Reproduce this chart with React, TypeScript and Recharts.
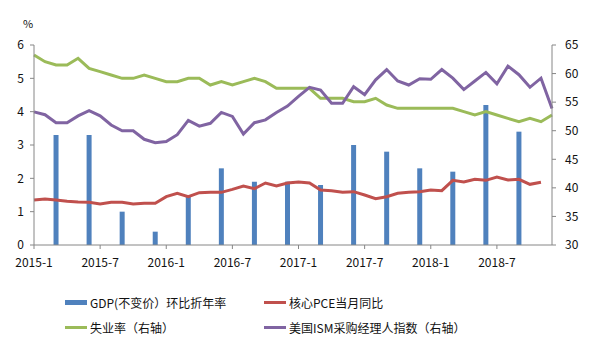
import React from "react";
import { ComposedChart, Bar, Line, XAxis, YAxis } from "recharts";

const FONT = "'Noto Sans CJK SC', 'Noto Sans', sans-serif";
const AXIS_COLOR = "#868686";
const TEXT_COLOR = "#111";

const months = [
    "2015-1", "2015-2", "2015-3", "2015-4", "2015-5", "2015-6", "2015-7", "2015-8", "2015-9", "2015-10", "2015-11", "2015-12",
    "2016-1", "2016-2", "2016-3", "2016-4", "2016-5", "2016-6", "2016-7", "2016-8", "2016-9", "2016-10", "2016-11", "2016-12",
    "2017-1", "2017-2", "2017-3", "2017-4", "2017-5", "2017-6", "2017-7", "2017-8", "2017-9", "2017-10", "2017-11", "2017-12",
    "2018-1", "2018-2", "2018-3", "2018-4", "2018-5", "2018-6", "2018-7", "2018-8", "2018-9", "2018-10", "2018-11", "2018-12",
];

const tickLabels = ["2015-1", "2015-7", "2016-1", "2016-7", "2017-1", "2017-7", "2018-1", "2018-7"];

// GDP only on quarter-end months
const gdp = [
    null, null, 3.3, null, null, 3.3, null, null, 1.0, null, null, 0.4,
    null, null, 1.5, null, null, 2.3, null, null, 1.9, null, null, 1.9,
    null, null, 1.8, null, null, 3.0, null, null, 2.8, null, null, 2.3,
    null, null, 2.2, null, null, 4.2, null, null, 3.4, null, null, null,
];

const corePce = [
    1.35, 1.38, 1.35, 1.31, 1.29, 1.28, 1.23, 1.28, 1.28, 1.23, 1.25, 1.25,
    1.45, 1.55, 1.45, 1.57, 1.58, 1.58, 1.67, 1.77, 1.69, 1.86, 1.77, 1.86,
    1.89, 1.86, 1.65, 1.63, 1.58, 1.6, 1.5, 1.39, 1.45, 1.55, 1.58, 1.6,
    1.65, 1.63, 1.94, 1.89, 1.97, 1.94, 2.04, 1.95, 1.97, 1.82, 1.88, null,
];

const unemployment = [
    5.7, 5.5, 5.4, 5.4, 5.6, 5.3, 5.2, 5.1, 5.0, 5.0, 5.1, 5.0,
    4.9, 4.9, 5.0, 5.0, 4.8, 4.9, 4.8, 4.9, 5.0, 4.9, 4.7, 4.7,
    4.7, 4.7, 4.4, 4.4, 4.4, 4.3, 4.3, 4.4, 4.2, 4.1, 4.1, 4.1,
    4.1, 4.1, 4.1, 4.0, 3.9, 4.0, 3.9, 3.8, 3.7, 3.8, 3.7, 3.9,
];

const ism = [
    53.3, 52.8, 51.4, 51.4, 52.6, 53.5, 52.6, 51.0, 50.0, 50.0, 48.5, 47.9,
    48.1, 49.3, 51.8, 50.8, 51.3, 53.2, 52.5, 49.4, 51.4, 51.9, 53.2, 54.3,
    56.0, 57.6, 57.1, 54.8, 54.8, 57.7, 56.3, 58.9, 60.7, 58.7, 58.0, 59.1,
    59.0, 60.7, 59.2, 57.2, 58.7, 60.2, 58.2, 61.3, 59.8, 57.6, 59.2, 53.9,
];

const leftTicks = [0, 1, 2, 3, 4, 5, 6];
const rightTicks = [30, 35, 40, 45, 50, 55, 60, 65];

const data = months.map((m, i) => ({
    i,
    month: m,
    gdp: gdp[i],
    pce: corePce[i],
    unemp: unemployment[i],
    ism: ism[i],
}));

const xTicks = tickLabels.map((t) => months.indexOf(t));

const legendItems = [
    { name: "GDP(不变价）环比折年率", color: "#4F81BD", bar: true },
    { name: "核心PCE当月同比", color: "#C0504D", bar: false },
    { name: "失业率（右轴）", color: "#9BBB59", bar: false },
    { name: "美国ISM采购经理人指数（右轴）", color: "#8064A2", bar: false },
];

const tickStyle = { fill: TEXT_COLOR, fontSize: 12, fontFamily: FONT };

export default function App() {
    return (
        <div style={{ position: "relative", width: 591, height: 345, background: "#fff", fontFamily: FONT }}>
            <style>{"body{margin:0}"}</style>
            <ComposedChart width={591} height={345} data={data} margin={{ top: 45, right: 0, bottom: 70, left: 0 }}>
                <XAxis
                    type="number"
                    dataKey="i"
                    domain={[0, 47]}
                    ticks={xTicks}
                    tickFormatter={(v: number) => months[v]}
                    height={30}
                    tick={tickStyle}
                    tickSize={4}
                    tickMargin={9}
                    axisLine={{ stroke: AXIS_COLOR }}
                    tickLine={{ stroke: AXIS_COLOR }}
                    allowDecimals={false}
                />
                <YAxis
                    yAxisId="left"
                    domain={[0, 6]}
                    ticks={leftTicks}
                    width={34}
                    tick={tickStyle}
                    tickSize={4}
                    tickMargin={6}
                    axisLine={{ stroke: AXIS_COLOR }}
                    tickLine={{ stroke: AXIS_COLOR }}
                    label={{ value: "%", position: "top", offset: 17, dx: 11, style: { fill: TEXT_COLOR, fontSize: 11, fontFamily: FONT } }}
                />
                <YAxis
                    yAxisId="right"
                    orientation="right"
                    domain={[30, 65]}
                    ticks={rightTicks}
                    width={39}
                    tick={tickStyle}
                    tickSize={4}
                    tickMargin={9}
                    axisLine={{ stroke: AXIS_COLOR }}
                    tickLine={{ stroke: AXIS_COLOR }}
                />
                <Bar yAxisId="left" dataKey="gdp" fill="#4F81BD" barSize={5} isAnimationActive={false} />
                <Line yAxisId="left" dataKey="pce" stroke="#C0504D" strokeWidth={3} dot={false} isAnimationActive={false} />
                <Line yAxisId="left" dataKey="unemp" stroke="#9BBB59" strokeWidth={3} dot={false} isAnimationActive={false} />
                <Line yAxisId="right" dataKey="ism" stroke="#8064A2" strokeWidth={3} dot={false} isAnimationActive={false} />
            </ComposedChart>
            <div
                style={{
                    position: "absolute",
                    left: 65,
                    top: 294,
                    width: 480,
                    display: "grid",
                    gridTemplateColumns: "199px 1fr",
                    rowGap: 9,
                    fontSize: 12,
                    color: TEXT_COLOR,
                }}
            >
                {legendItems.map((it) => (
                    <div key={it.name} style={{ display: "flex", alignItems: "center", height: 16 }}>
                        <span
                            style={{
                                display: "inline-block",
                                width: 22,
                                height: it.bar ? 5 : 3,
                                background: it.color,
                                marginRight: 3,
                            }}
                        />
                        <span>{it.name}</span>
                    </div>
                ))}
            </div>
        </div>
    );
}
